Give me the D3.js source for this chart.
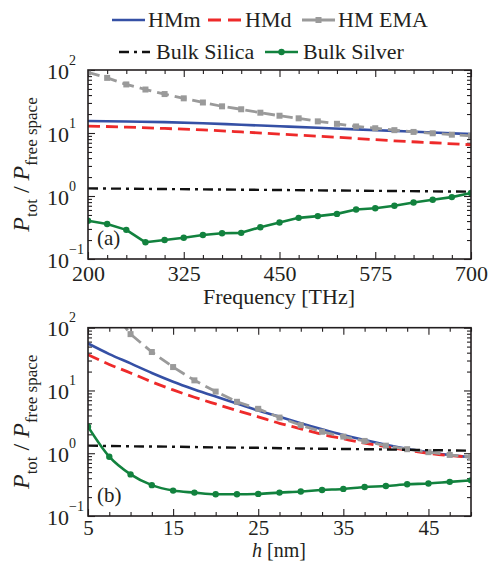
<!DOCTYPE html>
<html><head><meta charset="utf-8">
<script src="https://cdn.jsdelivr.net/npm/d3@7"></script>
<style>
body{margin:0;background:#fff}
svg{display:block}
</style>
</head><body>
<svg id="c" width="491" height="562"></svg>
<script>
// ---------- data ----------
const seriesNames = ["HMm","HMd","HM EMA","Bulk Silica","Bulk Silver"];
const colors = ["#3550a5","#ee2a2a","#9a9a9a","#111111","#12823e"];

// panel (a): frequency [THz]
const freqTicks = [200,325,450,575,700];
const freqMarkers = [200,225,250,275,300,325,350,375,400,425,450,475,500,525,550,575,600,625,650,675,700];
const freqLines = [200,250,300,350,400,450,500,550,600,650,700];
const freqSilica = [200,300,400,500,600,700];
const aHMm = [15.5,15.2,14.9,14.3,13.5,12.8,12.1,11.4,10.8,10.2,9.6];
const aHMd = [12.9,12.4,11.8,11.2,10.4,9.6,8.9,8.2,7.5,7.0,6.5];
const aEMA = [92,75,59,49,41.5,35.5,30.5,26.5,23.8,21,18.8,17.1,15.3,14.0,12.7,11.9,11.1,10.4,9.9,9.4,9.0];
const aSilica = [1.32,1.29,1.26,1.23,1.20,1.17];
const aSilver = [0.405,0.36,0.29,0.184,0.20,0.218,0.24,0.256,0.26,0.32,0.38,0.45,0.48,0.52,0.61,0.64,0.70,0.79,0.87,0.96,1.12];

// panel (b): h [nm]
const hTicks = [5,15,25,35,45];
const hVals = [5,7.5,10,12.5,15,17.5,20,22.5,25,27.5,30,32.5,35,37.5,40,42.5,45,47.5,50];
const hEMA = [7.5,10,12.5,15,17.5,20,22.5,25,27.5,30,32.5,35,37.5,40,42.5,45,47.5,50];
const hSilica = [5,10,15,20,25,30,35,40,45,50];
const bHMm = [56,38,27,19,13.8,10.4,8.0,6.2,4.8,3.8,3.0,2.4,1.95,1.62,1.37,1.18,1.04,0.94,0.86];
const bHMd = [37,26,19,13.7,10.2,7.8,6.1,4.8,3.8,3.0,2.45,2.0,1.7,1.45,1.27,1.12,1.0,0.92,0.87];
const bEMA = [215,79,41,23.6,14.5,9.6,6.6,5.1,3.7,2.8,2.2,1.84,1.57,1.32,1.16,1.04,0.94,0.87];
const bSilica = [1.32,1.29,1.27,1.24,1.22,1.19,1.17,1.15,1.12,1.10];
const bSilver = [2.65,0.88,0.46,0.31,0.254,0.236,0.222,0.222,0.225,0.236,0.245,0.26,0.27,0.29,0.30,0.32,0.33,0.35,0.37];

const yMajor = [0.1,1,10,100];
const yExp = ["\u22121","0","1","2"];

// ---------- drawing ----------
const FONT = '"Liberation Serif", "Times New Roman", Times, serif';
const INK = "#231f20";
const svg = d3.select("#c");
const zip = (xs, ys) => xs.map((v,i)=>[v,ys[i]]);

const styles = [
  {stroke:colors[0], width:2.6, dash:null, marker:null},
  {stroke:colors[1], width:2.8, dash:"12,6", marker:null},
  {stroke:colors[2], width:2.8, dash:"12,6", marker:"square"},
  {stroke:colors[3], width:2.4, dash:"10,5,3,5", marker:null},
  {stroke:colors[4], width:2.6, dash:null, marker:"circle"}
];

function drawPanel(p){
  const x = d3.scaleLinear().domain(p.xDomain).range([88,471]);
  const y = d3.scaleLog().domain([0.1,100]).range([p.bottom,p.top]);
  const g = svg.append("g");
  const H = p.bottom, T = p.top;
  const cid = "clip"+p.id;
  svg.append("clipPath").attr("id",cid).append("rect")
     .attr("x",88).attr("y",T).attr("width",383).attr("height",H-T);

  const yMinor = [];
  [0.1,1,10].forEach(dd=>{for(let k=2;k<=9;k++) yMinor.push(k*dd);});

  function fix(sel){ sel.select(".domain").remove(); sel.selectAll("line").attr("stroke",INK).attr("stroke-width",1.1); }

  // bottom / top
  const bx = g.append("g").attr("transform",`translate(0,${H})`)
    .call(d3.axisBottom(x).tickValues(p.xTicks).tickSizeInner(-7).tickSizeOuter(0).tickPadding(p.pad));
  fix(bx);
  bx.attr("font-size",p.tickSize);
  bx.selectAll("text").attr("fill",INK);
  g.append("g").attr("transform",`translate(0,${H})`)
    .call(d3.axisBottom(x).tickValues(p.xMinor).tickSizeInner(-4).tickSizeOuter(0).tickFormat("")).call(fix);
  g.append("g").attr("transform",`translate(0,${T})`)
    .call(d3.axisTop(x).tickValues(p.xTicks).tickSizeInner(-7).tickSizeOuter(0).tickFormat("")).call(fix);
  g.append("g").attr("transform",`translate(0,${T})`)
    .call(d3.axisTop(x).tickValues(p.xMinor).tickSizeInner(-4).tickSizeOuter(0).tickFormat("")).call(fix);

  // left / right
  const ly = g.append("g").attr("transform","translate(88,0)")
    .call(d3.axisLeft(y).tickValues(yMajor).tickSizeInner(-7).tickSizeOuter(0).tickFormat(""));
  fix(ly);
  ly.selectAll(".tick").each(function(d,i){
    const t = d3.select(this).append("text").attr("x",-41).attr("y",8)
      .attr("text-anchor","start").attr("font-size",22).attr("fill",INK);
    t.append("tspan").text("10");
    t.append("tspan").attr("dy",-14).attr("font-size",14).text(yExp[i]);
  });
  g.append("g").attr("transform","translate(88,0)")
    .call(d3.axisLeft(y).tickValues(yMinor).tickSizeInner(-4).tickSizeOuter(0).tickFormat("")).call(fix);
  g.append("g").attr("transform","translate(471,0)")
    .call(d3.axisRight(y).tickValues(yMajor).tickSizeInner(-7).tickSizeOuter(0).tickFormat("")).call(fix);
  g.append("g").attr("transform","translate(471,0)")
    .call(d3.axisRight(y).tickValues(yMinor).tickSizeInner(-4).tickSizeOuter(0).tickFormat("")).call(fix);

  // series
  const plot = g.append("g").attr("clip-path",`url(#${cid})`);
  const line = d3.line().x(d=>x(d[0])).y(d=>y(d[1]));
  p.series.forEach((s,i)=>{
    const st = styles[s.k];
    plot.append("path").datum(s.data)
      .attr("d", line.curve(s.smooth ? d3.curveMonotoneX : d3.curveLinear))
      .attr("fill","none").attr("stroke",st.stroke).attr("stroke-width",st.width)
      .attr("stroke-dasharray",st.dash).attr("stroke-linejoin","round");
    if(st.marker==="square"){
      plot.selectAll(null).data(s.data).enter().append("rect")
        .attr("x",d=>x(d[0])-3).attr("y",d=>y(d[1])-3).attr("width",6).attr("height",6)
        .attr("fill",st.stroke);
    } else if(st.marker==="circle"){
      plot.selectAll(null).data(s.data).enter().append("circle")
        .attr("cx",d=>x(d[0])).attr("cy",d=>y(d[1])).attr("r",3.2).attr("fill",st.stroke);
    }
  });

  // frame
  g.append("rect").attr("x",88).attr("y",T).attr("width",383).attr("height",H-T)
    .attr("fill","none").attr("stroke",INK).attr("stroke-width",1.6);

  // panel label
  g.append("text").attr("x",97).attr("y",p.labelY).attr("font-size",21).text(p.label);

  // y label
  const cy = (T+H)/2;
  const yl = g.append("text").attr("transform",`translate(29,${cy}) rotate(-90)`)
    .attr("text-anchor","middle").attr("font-size",24);
  yl.append("tspan").attr("font-style","italic").text("P");
  yl.append("tspan").attr("font-size",17).attr("dy",8).text("tot");
  yl.append("tspan").attr("dy",-8).text(" / ");
  yl.append("tspan").attr("font-style","italic").text("P");
  yl.append("tspan").attr("font-size",17).attr("dy",8).text("free space");

  // x label
  const xl = g.append("text").attr("x",279).attr("y",p.xLabelY).attr("text-anchor","middle").attr("font-size",p.xLabelSize);
  p.xLabel(xl);
}

drawPanel({
  id:"a", top:70, bottom:259, xDomain:[200,700], xTicks:freqTicks,
  xMinor:freqMarkers.filter(v=>!freqTicks.includes(v)), pad:6, tickSize:22,
  label:"(a)", labelY:245, xLabelY:304, xLabelSize:22,
  xLabel:t=>t.text("Frequency [THz]"),
  series:[
    {k:0, data:zip(freqLines,aHMm), smooth:true},
    {k:1, data:zip(freqLines,aHMd), smooth:true},
    {k:2, data:zip(freqMarkers,aEMA)},
    {k:3, data:zip(freqSilica,aSilica)},
    {k:4, data:zip(freqMarkers,aSilver)}
  ]
});
drawPanel({
  id:"b", top:327.7, bottom:516, xDomain:[5,50], xTicks:hTicks,
  xMinor:hVals.filter(v=>!hTicks.includes(v)), pad:4, tickSize:21,
  label:"(b)", labelY:502, xLabelY:557, xLabelSize:20,
  xLabel:t=>{t.append("tspan").attr("font-style","italic").text("h"); t.append("tspan").text(" [nm]");},
  series:[
    {k:0, data:zip(hVals,bHMm), smooth:true},
    {k:1, data:zip(hVals,bHMd), smooth:true},
    {k:2, data:zip(hEMA,bEMA)},
    {k:3, data:zip(hSilica,bSilica)},
    {k:4, data:zip(hVals,bSilver), smooth:true}
  ]
});

// legend
const legendPos = [
  {x:112, y:20, tx:148},
  {x:208, y:20, tx:245},
  {x:302, y:20, tx:338},
  {x:119, y:52, tx:156},
  {x:265, y:52, tx:303}
];
const lg = svg.append("g");
seriesNames.forEach((n,i)=>{
  const p = legendPos[i], st = styles[i];
  const len = (i===3)? 31 : 33;
  lg.append("line").attr("x1",p.x).attr("x2",p.x+len).attr("y1",p.y).attr("y2",p.y)
    .attr("stroke",st.stroke).attr("stroke-width",st.width)
    .attr("stroke-dasharray", i===1 ? "13,7" : (i===2 ? null : st.dash));
  if(st.marker==="square") lg.append("rect").attr("x",p.x+len/2-3).attr("y",p.y-3).attr("width",6).attr("height",6).attr("fill",st.stroke);
  if(st.marker==="circle") lg.append("circle").attr("cx",p.x+len/2).attr("cy",p.y).attr("r",3.2).attr("fill",st.stroke);
  lg.append("text").attr("x",p.tx).attr("y",p.y+7).attr("font-size",22).text(n);
});

// unify typography
svg.selectAll("text").style("font-family",FONT).style("fill",INK);
</script>
</body></html>
